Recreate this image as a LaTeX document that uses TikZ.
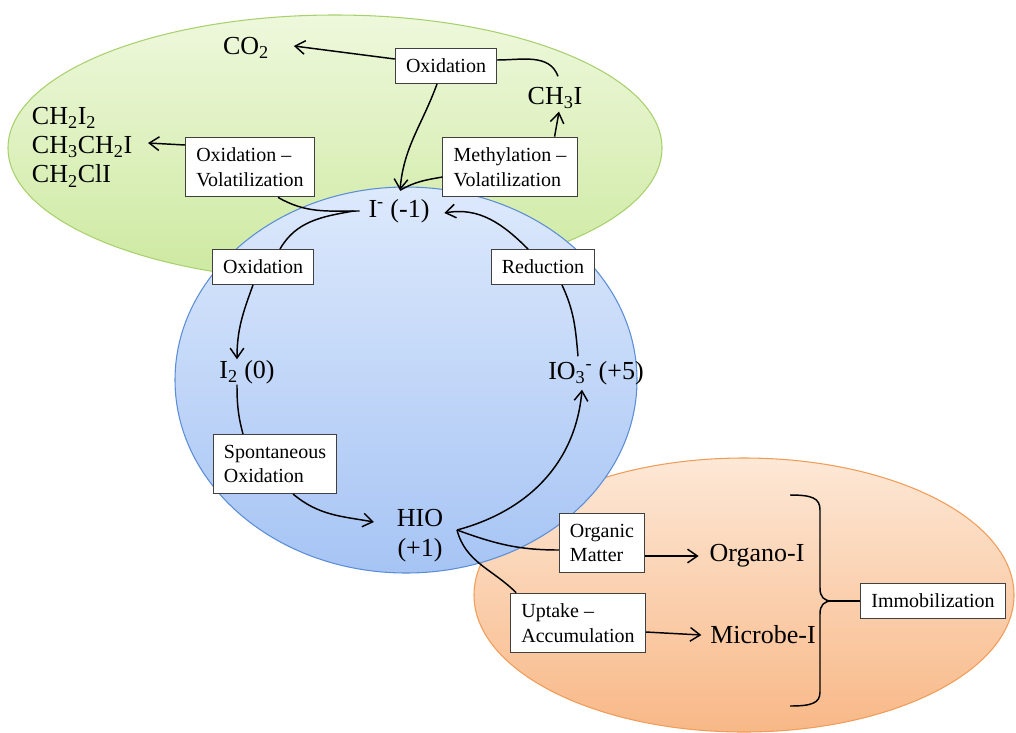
\documentclass[tikz,border=0pt]{standalone}
\usepackage{fontspec}
\setmainfont{Liberation Serif}
\usetikzlibrary{arrows.meta,calc}
\definecolor{gtop}{HTML}{EEF8DC}
\definecolor{gbot}{HTML}{CDE9A0}
\definecolor{gline}{HTML}{A8D16E}
\definecolor{btop}{HTML}{DDE9FC}
\definecolor{bbot}{HTML}{A6C4F4}
\definecolor{bline}{HTML}{5B8ED6}
\definecolor{otop}{HTML}{FDE8D6}
\definecolor{obot}{HTML}{F8B887}
\definecolor{oline}{HTML}{F19C58}
\definecolor{boxline}{HTML}{404040}
\begin{document}
\begin{tikzpicture}[x=0.75pt,y=-0.75pt,
  lbl/.style={draw=boxline,line width=0.8pt,fill=white,inner xsep=8pt,inner ysep=7.8pt,
    font=\fontsize{15}{18.5}\selectfont},
  big/.style={inner sep=2pt,font=\fontsize{19.5}{22}\selectfont},
  ln/.style={line width=1.1pt,black},
  arr/.style={ln,-{Straight Barb[length=2.6mm,width=3.6mm,line width=1.1pt]}}]
\useasboundingbox (0,0) rectangle (1016,732);
\clip (0,0) rectangle (1016,732);
% background ellipses
\path[top color=gtop,bottom color=gbot,draw=gline,line width=0.8pt]
  (335,148) ellipse [x radius=327, y radius=133];
\path[top color=otop,bottom color=obot,draw=oline,line width=0.8pt]
  (744,595) ellipse [x radius=270, y radius=137];
\path[top color=btop,bottom color=bbot,draw=bline,line width=0.8pt]
  (406,380) ellipse [x radius=231, y radius=193];
% nodes
\node[big] (co2) at (246,48) {CO\textsubscript{2}};
\node[big] (ch3i) at (555,98) {CH\textsubscript{3}I};
\node[big,align=left,anchor=west] (list) at (29,147)
  {CH\textsubscript{2}I\textsubscript{2}\\CH\textsubscript{3}CH\textsubscript{2}I\\CH\textsubscript{2}ClI};
\coordinate (ltip) at (148,143);
\node[lbl] (ox1) at (446,66) {Oxidation};
\node[lbl,align=left] (ov) at (250,167) {Oxidation –\\Volatilization};
\node[lbl,align=left] (mv) at (510,167) {Methylation –\\Volatilization};
\node[big] (im) at (399,211) {I\textsuperscript{-} (-1)};
\node[lbl] (ox2) at (263,267) {Oxidation};
\node[lbl] (red) at (543,267) {Reduction};
\node[big] (i2) at (247,372) {I\textsubscript{2} (0)};
\node[big] (io3) at (596,373) {IO\textsubscript{3}\textsuperscript{-} (+5)};
\node[lbl,align=left] (spo) at (275,464) {Spontaneous\\Oxidation};
\node[big] (hio) at (420,518) {HIO};
\node[big] (hiop) at (420,550) {(+1)};
\coordinate (hs) at (457,530);
\node[lbl,align=left] (om) at (602,543) {Organic\\Matter};
\node[big] (org) at (757,556) {Organo-I};
\node[lbl,align=left] (up) at (578,623) {Uptake –\\Accumulation};
\node[big] (mic) at (763,635) {Microbe-I};
\node[lbl] (imm) at (933,601) {Immobilization};
\coordinate (btip) at (832,601);
% connectors top
\draw[ln] ($(ox1.east)+(0,-6)$) to[out=0,in=110] ($(ch3i.north)+(3,-8)$);
\draw[arr] ($(ox1.west)+(0,-7)$) -- ($(co2.east)+(22,-2)$);
\draw[arr] ($(ox1.south)+(-9,0)$) to[out=-110,in=85] ($(im.north)+(1,-6)$);
\draw[ln] ($(mv.west)+(0,10)$) to[out=190,in=30] ($(im.north)+(1,-6)$);
\draw[arr] ($(mv.north east)+(-23,0)$) -- ($(ch3i.south)+(4,0)$);
\draw[ln] ($(im.west)+(-6,0)$) to[out=180,in=-30] ($(ov.south)+(28,0)$);
\draw[arr] ($(ov.west)+(0,-22)$) -- (ltip);
% cycle
\draw[ln] ($(im.west)+(-12,0)$) to[out=190,in=60] ($(ox2.north)+(17,0)$);
\draw[arr] ($(ox2.south)+(-10,0)$) to[out=-110,in=90] ($(i2.north)+(-10,2)$);
\draw[ln] ($(i2.south)+(-10,-2)$) to[out=-90,in=105] ($(spo.north)+(-32,0)$);
\draw[arr] ($(spo.south)+(18,0)$) to[out=-40,in=170] ($(hio.west)+(-20,4)$);
\draw[arr] (hs) to[out=15,in=-95] ($(io3.south)+(-14,2)$);
\draw[ln] ($(io3.north)+(-18,-2)$) to[out=95,in=-65] ($(red.south)+(19,0)$);
\draw[arr] ($(red.north)+(-15,0)$) to[out=135,in=10] ($(im.east)+(12,2)$);
% immobilization
\draw[ln] (hs) to[out=-20,in=180] ($(om.west)+(0,7)$);
\draw[arr] ($(om.east)+(0,13)$) -- ($(org.west)+(-8,0)$);
\draw[ln] (hs) to[out=-75,in=135] ($(up.north west)+(6,0)$);
\draw[arr] ($(up.east)+(0,9)$) -- ($(mic.west)+(-6,0)$);
\draw[ln] (790,495) .. controls (812,495) and (820,498) .. (820,510) -- (820,588)
  .. controls (820,597) and (824,601) .. (btip);
\draw[ln] (btip) .. controls (824,601) and (820,605) .. (820,614) -- (820,692)
  .. controls (820,703) and (812,706) .. (790,706);
\draw[ln] (btip) -- (imm.west);
\end{tikzpicture}
\end{document}
